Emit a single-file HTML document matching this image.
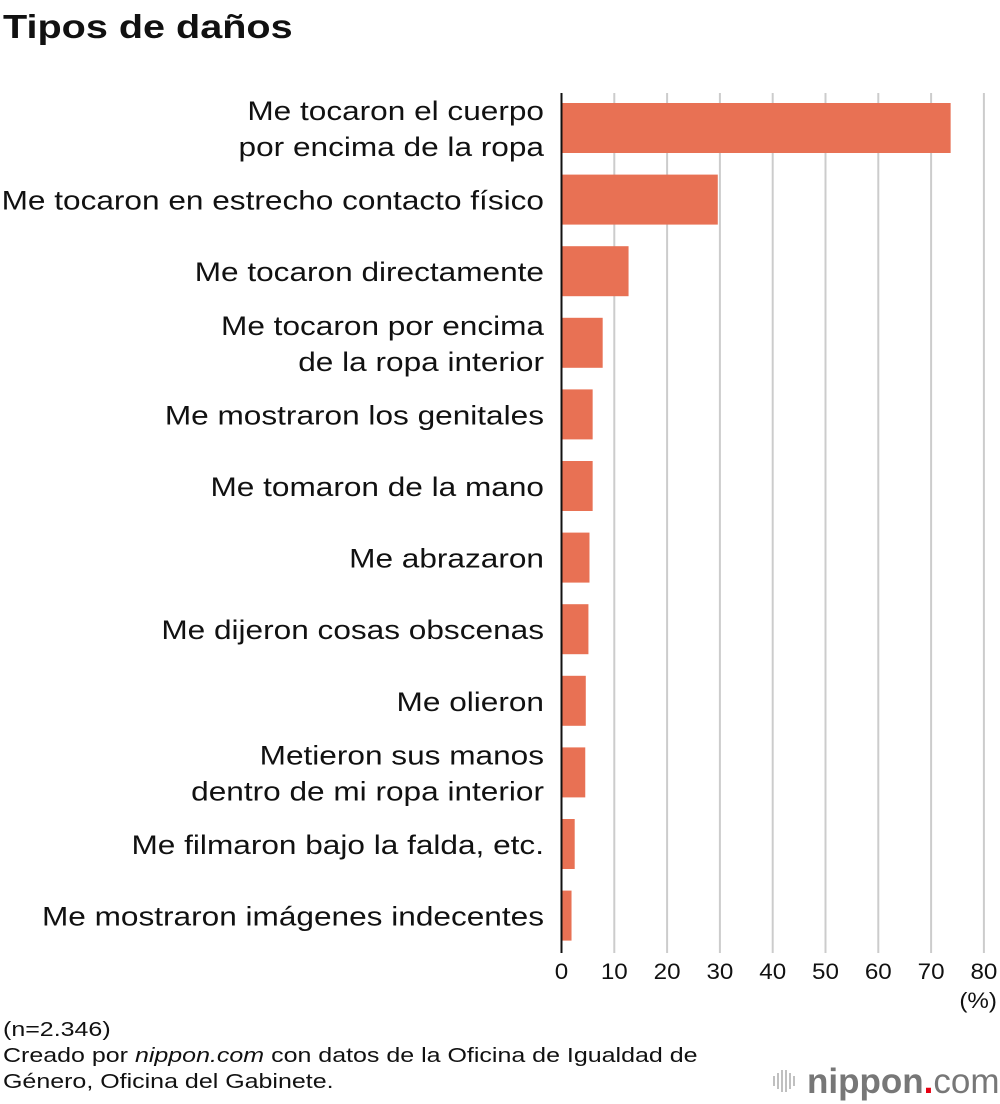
<!DOCTYPE html>
<html><head><meta charset="utf-8"><style>
body{margin:0;background:#fff;font-family:"Liberation Sans",sans-serif;}
#wrap{position:relative;width:1000px;height:1104px;overflow:hidden;}
</style></head><body>
<div id="wrap">
<svg id="chart" width="1000" height="1104">
<text x="3" y="38" font-size="33" font-weight="bold" fill="#111" transform="translate(3,0) scale(1.2,1) translate(-3,0)">Tipos de daños</text>
<g id="grid"></g><g id="bars"></g><g id="labels"></g><g id="ticks"></g>
<line x1="561.5" y1="93" x2="561.5" y2="953" stroke="#111" stroke-width="2"/>
<text x="997" y="1008" font-size="22" text-anchor="end" fill="#111" transform="translate(997,0) scale(1.1,1) translate(-997,0)">(%)</text>
<g transform="translate(3,0) scale(1.25,1) translate(-3,0)">
<text x="3" y="1036" font-size="20" fill="#111">(n=2.346)</text>
<text x="3" y="1062" font-size="20" fill="#111">Creado por <tspan font-style="italic">nippon.com</tspan> con datos de la Oficina de Igualdad de</text>
<text x="3" y="1088" font-size="20" fill="#111">Género, Oficina del Gabinete.</text>
</g>
<g>
<g stroke="#aaa" stroke-width="1.5"><line x1="774" y1="1076" x2="774" y2="1086"/><line x1="778" y1="1073" x2="778" y2="1089"/><line x1="782" y1="1070" x2="782" y2="1092"/><line x1="786" y1="1070" x2="786" y2="1092"/><line x1="790" y1="1073" x2="790" y2="1089"/><line x1="794" y1="1076" x2="794" y2="1086"/></g>
<text x="807" y="1093" font-size="35" font-weight="bold" fill="#777">nippon<tspan fill="#e60012">.</tspan><tspan font-weight="normal">com</tspan></text>
</g>
</svg>
</div>
<script>
const categories=[["Me tocaron el cuerpo","por encima de la ropa"],["Me tocaron en estrecho contacto físico"],["Me tocaron directamente"],["Me tocaron por encima","de la ropa interior"],["Me mostraron los genitales"],["Me tomaron de la mano"],["Me abrazaron"],["Me dijeron cosas obscenas"],["Me olieron"],["Metieron sus manos","dentro de mi ropa interior"],["Me filmaron bajo la falda, etc."],["Me mostraron imágenes indecentes"]];
const values=[73.7,29.6,12.7,7.8,5.9,5.9,5.3,5.1,4.6,4.5,2.5,1.9];
const tickValues=[0,10,20,30,40,50,60,70,80];
const NS="http://www.w3.org/2000/svg";
const x=v=>561.5+v*5.28;
const yTop=i=>103+i*71.6;
function mk(t,a,p){const e=document.createElementNS(NS,t);for(const k in a)e.setAttribute(k,a[k]);p.appendChild(e);return e;}
const grid=document.getElementById('grid'),bars=document.getElementById('bars'),labels=document.getElementById('labels'),ticks=document.getElementById('ticks');
labels.setAttribute('transform','translate(544,0) scale(1.17,1) translate(-544,0)');
tickValues.forEach(v=>{
 if(v>0){const g=mk('line',{x1:x(v),x2:x(v),y1:93,y2:953,stroke:'#ccc','stroke-width':2},grid);
 
 }
 const t=mk('text',{x:x(v),y:979,'font-size':22,'text-anchor':'middle',fill:'#111',transform:'translate('+x(v)+',0) scale(1.1,1) translate('+(-x(v))+',0)'},ticks);t.textContent=v;
 
 
});
values.forEach((v,i)=>{
 const r=mk('rect',{x:561.5,y:yTop(i),width:x(v)-561.5,height:50,fill:'#e87154'},bars);
 
 
 const lines=categories[i];const cy=yTop(i)+25;
 const t=mk('text',{'font-size':27,'text-anchor':'end',fill:'#111'},labels);
 
 
 lines.forEach((s,j)=>{const ts=mk('tspan',{x:544,y:cy+10+(j-(lines.length-1)/2)*36},t);ts.textContent=s;});
});
</script>
</body></html>
